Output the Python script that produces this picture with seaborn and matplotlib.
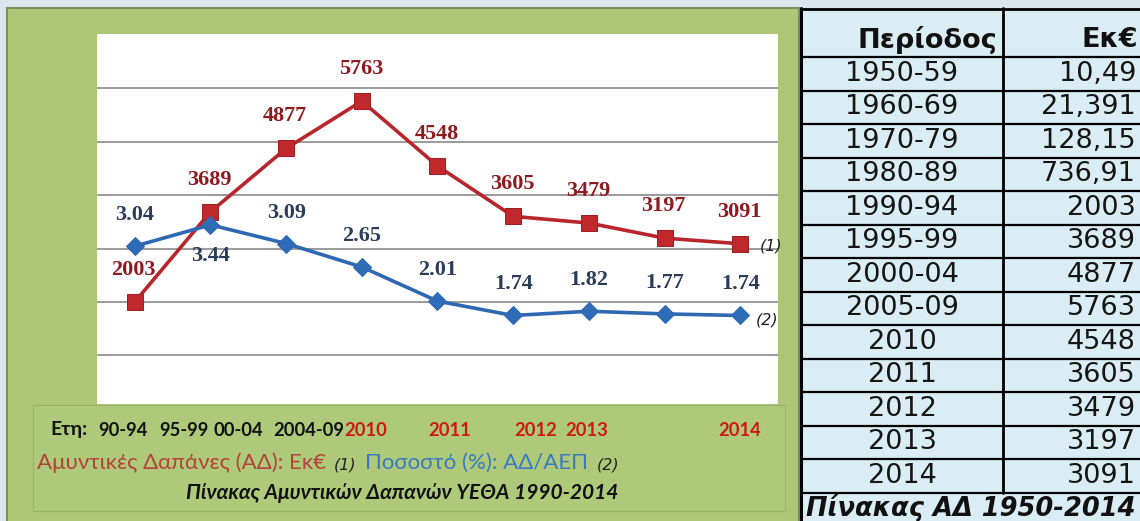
import numpy as np
import matplotlib
matplotlib.use('Agg')
import matplotlib.pyplot as plt
import seaborn as sns
from matplotlib.patches import Rectangle

# chart data
periods = ['90-94', '95-99', '00-04', '2004-09', '2010', '2011', '2012', '2013', '2014']
spending = [2003, 3689, 4877, 5763, 4548, 3605, 3479, 3197, 3091]
gdp_share = [3.04, 3.44, 3.09, 2.65, 2.01, 1.74, 1.82, 1.77, 1.74]
gdp_labels = ['3.04', '3.44', '3.09', '2.65', '2.01', '1.74', '1.82', '1.77', '1.74']

# table on the right
table_periods = ['1950-59', '1960-69', '1970-79', '1980-89', '1990-94', '1995-99',
                 '2000-04', '2005-09', '2010', '2011', '2012', '2013', '2014']
table_values = ['10,49', '21,391', '128,15', '736,91', '2003', '3689',
                '4877', '5763', '4548', '3605', '3479', '3197', '3091']

sns.set_theme(style='white')
plt.rcParams['font.family'] = ['DejaVu Sans']

W, H = 1140, 521
fig = plt.figure(figsize=(W / 100, H / 100), dpi=100)
fig.patch.set_facecolor('#dde6ef')

# background axes in pixel coordinates
bg = fig.add_axes([0, 0, 1, 1])
bg.set_xlim(0, W)
bg.set_ylim(H, 0)
bg.axis('off')

# green panel + legend box
bg.add_patch(Rectangle((7, 8), 792, 520, fc='#adc777', ec='#7d8f60', lw=1.5))
bg.add_patch(Rectangle((33, 405), 752, 106, fc='#afc97a', ec='#9ab46c', lw=0.8))

# chart
red = '#b8262b'
blue = '#2e68b2'
ax = fig.add_axes([97 / W, (H - 404) / H, (778 - 97) / W, (404 - 34) / H])
ax.set_facecolor('white')
x = np.arange(len(periods))
sns.lineplot(x=x, y=spending, ax=ax, color=red, lw=2.6, marker='s', markersize=11.5,
             markeredgecolor='#a01f22', markerfacecolor='#c0282c', zorder=3)
ax.set_xlim(-0.5, len(periods) - 0.5)
ax.set_ylim(90, 7020)
ax.set_yticks([1000, 2000, 3000, 4000, 5000, 6000])
ax.yaxis.grid(True, color='#8a8a8a', lw=1.2)
ax.set_xticks([])
for s in ax.spines.values():
    s.set_visible(False)

ax2 = ax.twinx()
sns.lineplot(x=x, y=gdp_share, ax=ax2, color=blue, lw=2.6, marker='D', markersize=9,
             markeredgecolor=blue, markerfacecolor='#2f6cb8', zorder=3)
ax2.set_ylim(0.08, 7.02)
ax2.set_yticks([])
ax2.grid(False)
for s in ax2.spines.values():
    s.set_visible(False)
ax.tick_params(left=False, right=False, bottom=False, labelleft=False, labelright=False)
ax2.tick_params(left=False, right=False, labelleft=False, labelright=False)
ax.set_ylabel('')
ax2.set_ylabel('')

for i, v in enumerate(spending):
    ax.annotate(str(v), (i, v), xytext=(-1, 32), textcoords='offset pixels',
                ha='center', va='center', color='#8e1b1f', fontsize=16,
                fontweight='bold', family='Liberation Serif')
for i, (v, t) in enumerate(zip(gdp_share, gdp_labels)):
    dy = -31 if i == 1 else 31
    ax2.annotate(t, (i, v), xytext=(0, dy), textcoords='offset pixels',
                 ha='center', va='center', color='#2c3c5a', fontsize=16,
                 fontweight='bold', family='Liberation Serif', zorder=5)

ax.annotate('(1)', (len(periods) - 1, spending[-1]), xytext=(20, -2),
            textcoords='offset pixels', ha='left', va='center', fontsize=11.5,
            style='italic', color='#222222', annotation_clip=False)
ax2.annotate('(2)', (len(periods) - 1, gdp_share[-1]), xytext=(16, -5),
             textcoords='offset pixels', ha='left', va='center', fontsize=11.5,
             style='italic', color='#222222', annotation_clip=False)

# legend area texts
leg_font = 'Lato'
bg.text(50, 430, 'Ετη:', ha='left', va='center', fontsize=14, fontweight='bold',
        family=leg_font, color='#111111')
year_x = [123, 184, 238, 309, 366, 450, 536, 587, 740]
for px, lab in zip(year_x, periods):
    col = '#111111' if '-' in lab else '#cc1a14'
    bg.text(px, 430, lab, ha='center', va='center', fontsize=13.2, fontweight='bold',
            family=leg_font, color=col)

bg.text(37, 463, 'Αμυντικές Δαπάνες (ΑΔ): Εκ€', ha='left', va='center', fontsize=16,
        family=leg_font, color='#b2423a')
bg.text(334, 465, '(1)', ha='left', va='center', fontsize=11.5, style='italic',
        family='DejaVu Sans', color='#222222')
bg.text(365, 463, 'Ποσοστό (%): ΑΔ/ΑΕΠ', ha='left', va='center', fontsize=16,
        family=leg_font, color='#3a79c0')
bg.text(597, 465, '(2)', ha='left', va='center', fontsize=11.5, style='italic',
        family='DejaVu Sans', color='#222222')
bg.text(402, 493, 'Πίνακας Αμυντικών Δαπανών ΥΕΘΑ 1990-2014', ha='center', va='center',
        fontsize=15, fontweight='bold', style='italic', family=leg_font, color='#111111')

# table
tx0, tx_mid, tx1 = 801, 1003, 1140
bg.add_patch(Rectangle((tx0, 8), tx1 - tx0, H - 8, fc='#dbedf4', ec='none'))
row_top = 57
row_h = 33.5
bg.plot([tx0, tx1], [9, 9], color='black', lw=2)
bg.plot([tx0, tx0], [8, H], color='black', lw=2.2)
n = len(table_periods)
bg.plot([tx_mid, tx_mid], [8, row_top + n * row_h], color='black', lw=2)
for k in range(n + 1):
    yy = row_top + k * row_h
    bg.plot([tx0, tx1], [yy, yy], color='black', lw=1.6)

bg.text(997, 40, 'Περίοδος', ha='right', va='center', fontsize=19.5, fontweight='bold',
        color='#111111')
bg.text(1138, 40, 'Εκ€', ha='right', va='center', fontsize=19.5, fontweight='bold',
        color='#111111')
for k, (p, v) in enumerate(zip(table_periods, table_values)):
    yy = row_top + (k + 0.5) * row_h
    bg.text(902, yy, p, ha='center', va='center', fontsize=19.5, color='#151515')
    bg.text(1136, yy, v, ha='right', va='center', fontsize=19.5, color='#151515')
bg.text(806, 508, 'Πίνακας ΑΔ 1950-2014', ha='left', va='center', fontsize=18.5,
        fontweight='bold', style='italic', color='#111111')

fig.savefig('out.png', dpi=100)
